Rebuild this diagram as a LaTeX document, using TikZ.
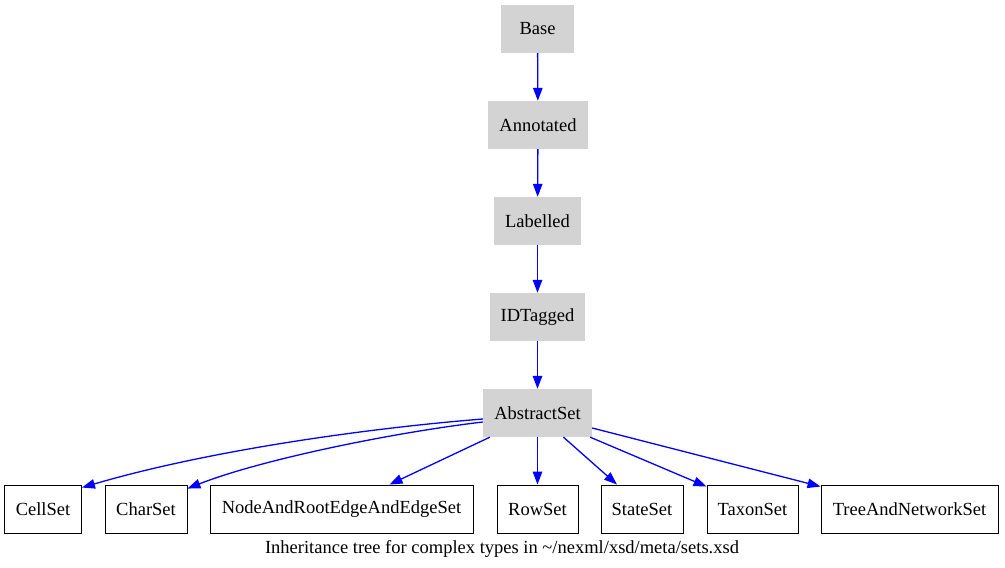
\documentclass[tikz,border=0pt]{standalone}
\usepackage{fontspec}
\setmainfont{Liberation Serif}
\usetikzlibrary{arrows.meta}
\definecolor{graynode}{RGB}{211,211,211}
\begin{document}
\begin{tikzpicture}[x=1pt,y=-1pt,
  font=\fontsize{18.5}{21}\selectfont,
  base/.style={fill=graynode, draw=none, minimum height=48pt, inner sep=0pt},
  leaf/.style={fill=white, draw=black, line width=0.9pt, minimum height=48pt, inner sep=0pt},
  edge/.style={draw=blue, line width=1.3pt, -{Triangle[length=13pt,width=9.5pt]}}]
\useasboundingbox (0,0) rectangle (1005,568);
\node[base, minimum width=73pt] (b) at (537.5,29) {Base};
\node[base, minimum width=100pt] (an) at (538,125) {Annotated};
\node[base, minimum width=87pt] (lb) at (537.5,221) {Labelled};
\node[base, minimum width=95pt] (id) at (537.5,317) {IDTagged};
\node[base, minimum width=109pt] (as) at (537.5,413) {AbstractSet};
\node[leaf, minimum width=77pt] (cell) at (43,509) {CellSet};
\node[leaf, minimum width=82pt] (char) at (146,509) {CharSet};
\node[leaf, minimum width=263pt] (nre) at (341.5,509) {NodeAndRootEdgeAndEdgeSet};
\node[leaf, minimum width=81pt] (row) at (537.5,509) {RowSet};
\node[leaf, minimum width=82pt] (state) at (642,509) {StateSet};
\node[leaf, minimum width=91pt] (taxon) at (752.5,509) {TaxonSet};
\node[leaf, minimum width=177pt] (tree) at (909.5,509) {TreeAndNetworkSet};
\node (cap) at (502,549) {Inheritance tree for complex types in \textasciitilde/nexml/xsd/meta/sets.xsd};
\draw[edge] (b) -- (an);
\draw[edge] (an) -- (lb);
\draw[edge] (lb) -- (id);
\draw[edge] (id) -- (as);
\draw[edge] ([yshift=-6pt]as.west) .. controls (370,428) and (210,450) .. ([yshift=-3pt]cell.north east);
\draw[edge] ([yshift=-9pt]as.west) .. controls (390,433) and (260,460) .. ([yshift=-4pt]char.north east);
\draw[edge] ([xshift=7pt]as.south west) -- ([xshift=48pt]nre.north);
\draw[edge] (as) -- (row);
\draw[edge] ([xshift=26pt]as.south) -- ([xshift=-25pt]state.north);
\draw[edge] ([xshift=-2pt]as.south east) -- ([yshift=-2pt]taxon.north west);
\draw[edge] ([yshift=-15pt]as.east) -- ([yshift=-2pt]tree.north west);
\end{tikzpicture}
\end{document}
